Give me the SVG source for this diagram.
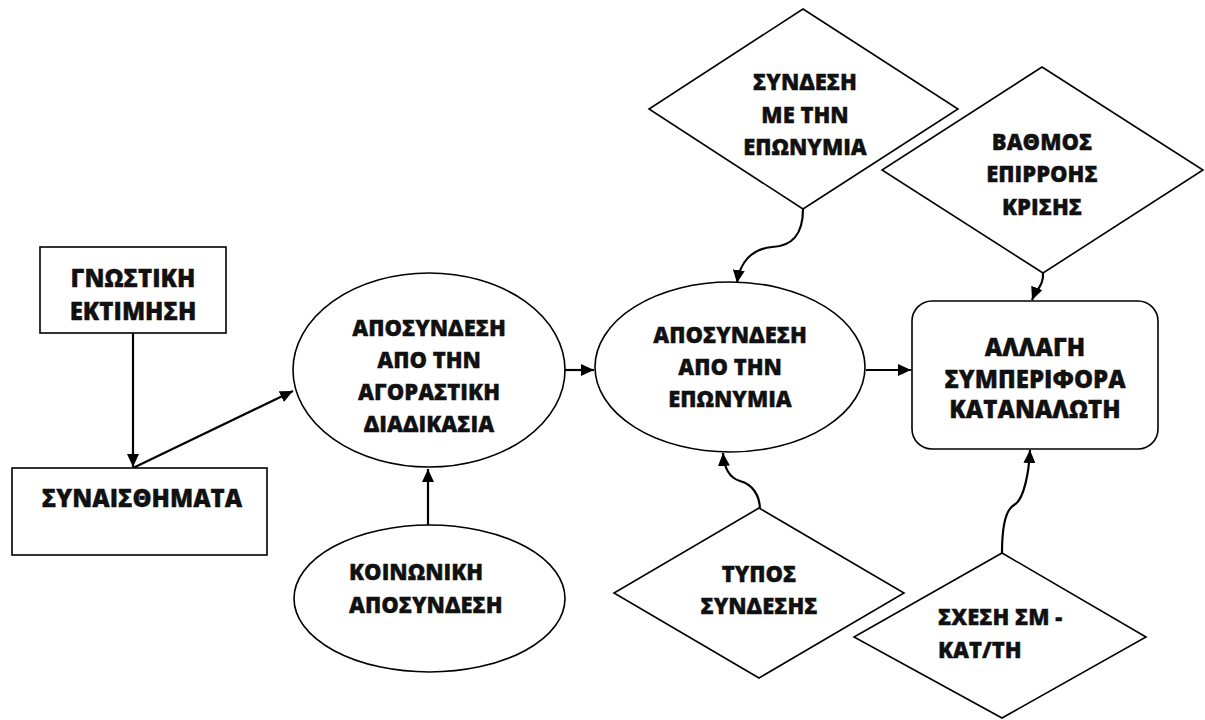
<svg xmlns="http://www.w3.org/2000/svg" width="1205" height="720" viewBox="0 0 1205 720">
  <style>
    .shape { fill: #ffffff; stroke: #000000; stroke-width: 1.6; }
    .edge { fill: none; stroke: #000000; stroke-width: 2.2; }
    .lbl { font-family: "Open Sans", "Noto Sans", "DejaVu Sans", sans-serif; font-weight: 800; font-size: 22px; fill: #111111; stroke: #111111; stroke-width: 0.35; }
    .mid { text-anchor: middle; }
    .big { font-size: 24px; }
  </style>
  <defs>
    <marker id="arrow" markerUnits="userSpaceOnUse" markerWidth="14" markerHeight="12" refX="13" refY="6" orient="auto">
      <path d="M0,0 L13,6 L0,12 z" fill="#000000"/>
    </marker>
  </defs>

  <rect width="1205" height="720" fill="#ffffff"/>

  <!-- connectors -->
  <g id="connectors">
    <path class="edge" d="M133,333 L133,467" marker-end="url(#arrow)"/>
    <path class="edge" d="M133,468 L293,391" marker-end="url(#arrow)"/>
    <path class="edge" d="M428,525 L428,469" marker-end="url(#arrow)"/>
    <path class="edge" d="M565,370 L594,370" marker-end="url(#arrow)"/>
    <path class="edge" d="M866,370 L911,370" marker-end="url(#arrow)"/>
    <path class="edge" d="M803,209 C803,235 792,246 772,247 C752,249 740,262 737,283" marker-end="url(#arrow)"/>
    <path class="edge" d="M1043,273 C1044,285 1036,290 1032,300" marker-end="url(#arrow)"/>
    <path class="edge" d="M760,510 C760,495 752,484 740,481 C730,478 724,468 723,453" marker-end="url(#arrow)"/>
    <path class="edge" d="M1002,553 C1002,530 1005,510 1014,505 C1024,500 1029,472 1030,450" marker-end="url(#arrow)"/>
  </g>

  <g id="gnostiki-ektimisi">
    <rect class="shape" x="40" y="247" width="186" height="86"/>
    <text class="lbl big mid" x="133" y="287">ΓΝΩΣΤΙΚΗ</text>
    <text class="lbl big mid" x="133" y="320">ΕΚΤΙΜΗΣΗ</text>
  </g>

  <g id="synaisthimata">
    <rect class="shape" x="12" y="468" width="255" height="87"/>
    <text class="lbl big mid" x="142" y="507">ΣΥΝΑΙΣΘΗΜΑΤΑ</text>
  </g>

  <g id="aposyndesi-agorastiki">
    <ellipse class="shape" cx="429" cy="370" rx="136" ry="97"/>
    <text class="lbl mid" x="429" y="336">ΑΠΟΣΥΝΔΕΣΗ</text>
    <text class="lbl mid" x="429" y="368">ΑΠΟ ΤΗΝ</text>
    <text class="lbl mid" x="429" y="400">ΑΓΟΡΑΣΤΙΚΗ</text>
    <text class="lbl mid" x="429" y="432">ΔΙΑΔΙΚΑΣΙΑ</text>
  </g>

  <g id="koinoniki-aposyndesi">
    <ellipse class="shape" cx="429.5" cy="598.5" rx="135.5" ry="73.5"/>
    <text class="lbl" x="349" y="580">ΚΟΙΝΩΝΙΚΗ</text>
    <text class="lbl" x="349" y="613">ΑΠΟΣΥΝΔΕΣΗ</text>
  </g>

  <g id="aposyndesi-eponymia">
    <ellipse class="shape" cx="730" cy="367" rx="135" ry="85"/>
    <text class="lbl mid" x="730" y="343">ΑΠΟΣΥΝΔΕΣΗ</text>
    <text class="lbl mid" x="730" y="375">ΑΠΟ ΤΗΝ</text>
    <text class="lbl mid" x="730" y="407">ΕΠΩΝΥΜΙΑ</text>
  </g>

  <g id="syndesi-eponymia">
    <polygon class="shape" points="803,9 958,109 803,209 649,109"/>
    <text class="lbl mid" x="805" y="90">ΣΥΝΔΕΣΗ</text>
    <text class="lbl mid" x="805" y="123">ΜΕ ΤΗΝ</text>
    <text class="lbl mid" x="805" y="155">ΕΠΩΝΥΜΙΑ</text>
  </g>

  <g id="vathmos-epirrois">
    <polygon class="shape" points="1042,67 1203,170 1043,273 882,170"/>
    <text class="lbl mid" x="1042" y="150">ΒΑΘΜΟΣ</text>
    <text class="lbl mid" x="1042" y="182">ΕΠΙΡΡΟΗΣ</text>
    <text class="lbl mid" x="1042" y="215">ΚΡΙΣΗΣ</text>
  </g>

  <g id="allagi-symperiforas">
    <rect class="shape" x="912" y="301" width="246" height="148" rx="20" ry="20"/>
    <text class="lbl big mid" x="1035" y="356">ΑΛΛΑΓΗ</text>
    <text class="lbl big mid" x="1035" y="388">ΣΥΜΠΕΡΙΦΟΡΑ</text>
    <text class="lbl big mid" x="1035" y="418">ΚΑΤΑΝΑΛΩΤΗ</text>
  </g>

  <g id="typos-syndesis">
    <polygon class="shape" points="759,508 904,593 759,678 614,593"/>
    <text class="lbl mid" x="759" y="582">ΤΥΠΟΣ</text>
    <text class="lbl mid" x="759" y="614">ΣΥΝΔΕΣΗΣ</text>
  </g>

  <g id="schesi-sm-katanaloti">
    <polygon class="shape" points="1002,553 1146,637 1002,718 854,637"/>
    <text class="lbl" x="938" y="625">ΣΧΕΣΗ ΣΜ -</text>
    <text class="lbl" x="938" y="658">ΚΑΤ/ΤΗ</text>
  </g>
</svg>
